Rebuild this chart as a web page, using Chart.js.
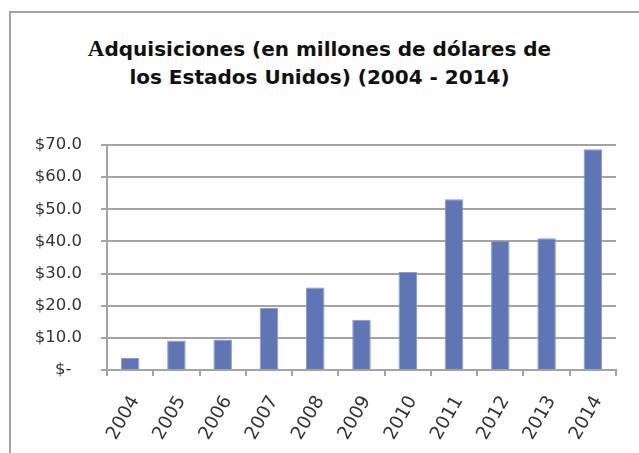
<!DOCTYPE html>
<html>
<head>
<meta charset="utf-8">
<script src="https://cdn.jsdelivr.net/npm/chart.js@4"></script>
<style>
  html, body { margin: 0; padding: 0; width: 639px; height: 453px; overflow: hidden; background: #fff; }
  #frame { position: absolute; left: 9px; top: 11px; width: 700px; height: 500px;
           border-top: 2px solid #a3a3a3; border-left: 2px solid #a3a3a3; }
  #title { position: absolute; left: 0; top: 35px; width: 639px; text-align: center;
           font-family: "DejaVu Sans", sans-serif; font-weight: bold; font-size: 20px; line-height: 28px; color: #111; }
  #title .a { font-family: "Liberation Serif", serif; font-size: 23px; }
  #wrap { position: absolute; left: 0; top: 0; width: 639px; height: 453px; }
</style>
</head>
<body>
<div id="frame"></div>
<div id="title"><span class="a">A</span>dquisiciones (en millones de dólares de<br>los Estados Unidos) (2004 - 2014)</div>
<div id="wrap"><canvas id="c" width="639" height="453"></canvas></div>
<script>
const categories = ['2004','2005','2006','2007','2008','2009','2010','2011','2012','2013','2014'];
const acquisitions = [3.7, 9.2, 9.5, 19.3, 25.7, 15.6, 30.5, 53.1, 40.2, 41.0, 68.7];
const yTicks = [0, 10, 20, 30, 40, 50, 60, 70];

new Chart(document.getElementById('c'), {
  type: 'bar',
  data: {
    labels: categories,
    datasets: [{
      data: acquisitions,
      backgroundColor: '#6075b6',
      borderColor: '#8a9bd0',
      borderWidth: 1,
      barPercentage: 0.4,
      categoryPercentage: 1.0
    }]
  },
  options: {
    responsive: false,
    animation: false,
    layout: { padding: { left: 12, right: 23, top: 145, bottom: 0 } },
    plugins: { legend: { display: false }, title: { display: false }, tooltip: { enabled: false } },
    scales: {
      x: {
        grid: { display: true, drawOnChartArea: false, drawTicks: true, tickLength: 6, color: '#a3a3a3', lineWidth: 2, offset: true },
        border: { display: true, color: '#a3a3a3', width: 2 },
        ticks: { color: '#333', font: { family: 'DejaVu Sans', size: 18.5 }, minRotation: 60, maxRotation: 60, padding: 16, labelOffset: 5 },
        afterFit: (s) => { s.height = 83; }
      },
      y: {
        min: 0, max: 70,
        afterBuildTicks: (s) => { s.ticks = yTicks.map(v => ({ value: v })); },
        grid: { color: '#a3a3a3', lineWidth: 2, tickLength: 6, drawTicks: true },
        border: { display: true, color: '#a3a3a3', width: 2 },
        ticks: {
          color: '#333', font: { family: 'DejaVu Sans', size: 16.5 }, padding: 19,
          callback: (v) => v === 0 ? '$-  ' : '$' + Number(v).toFixed(1)
        },
        afterFit: (s) => { s.width = 95; }
      }
    }
  }
});
</script>
</body>
</html>
